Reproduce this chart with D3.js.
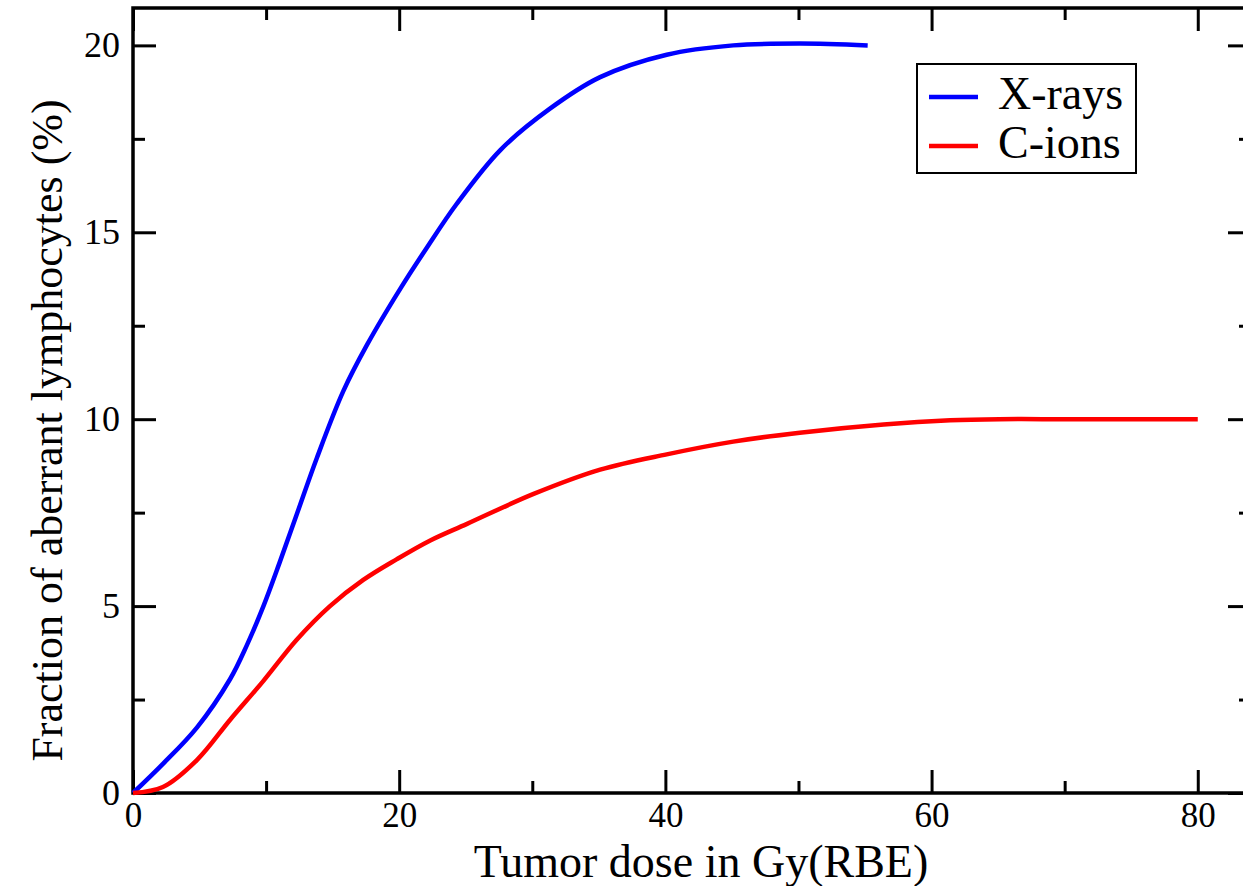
<!DOCTYPE html>
<html>
<head>
<meta charset="utf-8">
<script src="https://cdn.jsdelivr.net/npm/d3@7"></script>
<style>
  body { margin: 0; background: #fff; }
  text { font-family: "Liberation Serif", "DejaVu Serif", serif; fill: #000; }
</style>
</head>
<body>
<script>
// Data
const xrayDose = [0, 2.25, 4.8, 7.3, 8.55, 9.8, 11.0, 12.3, 13.8, 15.8, 17.6, 20.1, 22.1, 24.3, 27.6, 31.3, 35.1, 40.1, 45.1, 50.1, 55.2];
const xrayFrac = [0, 0.78, 1.75, 3.05, 3.95, 5.0, 6.15, 7.45, 8.95, 10.75, 12.0, 13.5, 14.6, 15.75, 17.2, 18.3, 19.15, 19.75, 20.0, 20.05, 20.0];

const cionDose = [0, 2.25, 4.8, 7.3, 9.8, 12.3, 14.8, 17.3, 19.8, 22.3, 25.1, 30.1, 35.1, 40.1, 45.1, 50.1, 56.4, 61.4, 65.1, 70, 75, 80];
const cionFrac = [0, 0.16, 0.88, 1.96, 3.0, 4.1, 5.0, 5.7, 6.25, 6.75, 7.2, 8.0, 8.65, 9.06, 9.4, 9.64, 9.86, 9.97, 10.0, 10.0, 10.0, 10.0];

const xTicks = [0, 20, 40, 60, 80];
const xMinor = [10, 30, 50, 70];
const yTicks = [0, 5, 10, 15, 20];
const yMinor = [2.5, 7.5, 12.5, 17.5];

const seriesNames = ['X-rays', 'C-ions'];
const seriesColors = ['#0000ff', '#ff0000'];

let width = 1243,
    height = 886;

let margin = { top: 8, bottom: 93, left: 133, right: -8 };

let svg = d3.select('body')
  .append('svg')
    .attr('width', width)
    .attr('height', height);

// Scales
let xScale = d3.scaleLinear()
  .domain([0, 84])
  .range([margin.left, width - margin.right]);

let yScale = d3.scaleLinear()
  .domain([0, 21])
  .range([height - margin.bottom, margin.top]);

let x0 = xScale.range()[0], x1 = xScale.range()[1];
let y0 = yScale.range()[0], y1 = yScale.range()[1];

// Ticks on all four sides, pointing inward
function styleAxis(g) {
  g.select('.domain').remove();
  g.selectAll('.tick line').attr('stroke', '#000').attr('stroke-width', 3);
}

svg.append('g')
  .attr('transform', `translate(0,${y0})`)
  .call(d3.axisBottom(xScale).tickValues(xTicks).tickSize(-23).tickPadding(9).tickFormat(d3.format('d')))
  .call(styleAxis)
  .selectAll('text').style('font-size', '35px');

svg.append('g')
  .attr('transform', `translate(0,${y0})`)
  .call(d3.axisBottom(xScale).tickValues(xMinor).tickSize(-12).tickFormat(''))
  .call(styleAxis);

svg.append('g')
  .attr('transform', `translate(0,${y1})`)
  .call(d3.axisTop(xScale).tickValues(xTicks).tickSize(-23).tickFormat(''))
  .call(styleAxis);

svg.append('g')
  .attr('transform', `translate(0,${y1})`)
  .call(d3.axisTop(xScale).tickValues(xMinor).tickSize(-12).tickFormat(''))
  .call(styleAxis);

svg.append('g')
  .attr('transform', `translate(${x0},0)`)
  .call(d3.axisLeft(yScale).tickValues(yTicks).tickSize(-23).tickPadding(13).tickFormat(d3.format('d')))
  .call(styleAxis)
  .selectAll('text').style('font-size', '36px');

svg.append('g')
  .attr('transform', `translate(${x0},0)`)
  .call(d3.axisLeft(yScale).tickValues(yMinor).tickSize(-12).tickFormat(''))
  .call(styleAxis);

svg.append('g')
  .attr('transform', `translate(${x1},0)`)
  .call(d3.axisRight(yScale).tickValues(yTicks).tickSize(-23).tickFormat(''))
  .call(styleAxis);

svg.append('g')
  .attr('transform', `translate(${x1},0)`)
  .call(d3.axisRight(yScale).tickValues(yMinor).tickSize(-12).tickFormat(''))
  .call(styleAxis);

// Frame
svg.append('rect')
  .attr('x', x0)
  .attr('y', y1)
  .attr('width', x1 - x0)
  .attr('height', y0 - y1)
  .attr('fill', 'none')
  .attr('stroke', '#000')
  .attr('stroke-width', 3.5);

// Curves
let line = d3.line()
  .x(d => xScale(d[0]))
  .y(d => yScale(d[1]))
  .curve(d3.curveCatmullRom.alpha(0.5));

let series = [
  xrayDose.map((d, i) => [d, xrayFrac[i]]),
  cionDose.map((d, i) => [d, cionFrac[i]])
];

svg.selectAll('path.curve')
  .data(series)
  .enter()
  .append('path')
    .attr('class', 'curve')
    .attr('d', line)
    .attr('fill', 'none')
    .attr('stroke', (d, i) => seriesColors[i])
    .attr('stroke-width', 4.5);

// Axis titles
svg.append('text')
  .attr('x', 701)
  .attr('y', 877)
  .attr('text-anchor', 'middle')
  .style('font-size', '46px')
  .text('Tumor dose in Gy(RBE)');

svg.append('text')
  .attr('transform', `translate(62,${(y0 + y1) / 2 + 30}) rotate(-90)`)
  .attr('text-anchor', 'middle')
  .style('font-size', '44px')
  .text('Fraction of aberrant lymphocytes (%)');

// Legend
let legend = svg.append('g');

legend.append('rect')
  .attr('x', 917)
  .attr('y', 64)
  .attr('width', 219)
  .attr('height', 109)
  .attr('fill', '#fff')
  .attr('stroke', '#000')
  .attr('stroke-width', 2);

let items = legend.selectAll('g.item')
  .data(seriesNames)
  .enter()
  .append('g')
    .attr('class', 'item')
    .attr('transform', (d, i) => `translate(0,${97 + i * 49})`);

items.append('line')
  .attr('x1', 929)
  .attr('x2', 978)
  .attr('stroke', (d, i) => seriesColors[i])
  .attr('stroke-width', 4.5);

items.append('text')
  .attr('x', 998)
  .attr('y', 12)
  .style('font-size', '46px')
  .text(d => d);
</script>
</body>
</html>
